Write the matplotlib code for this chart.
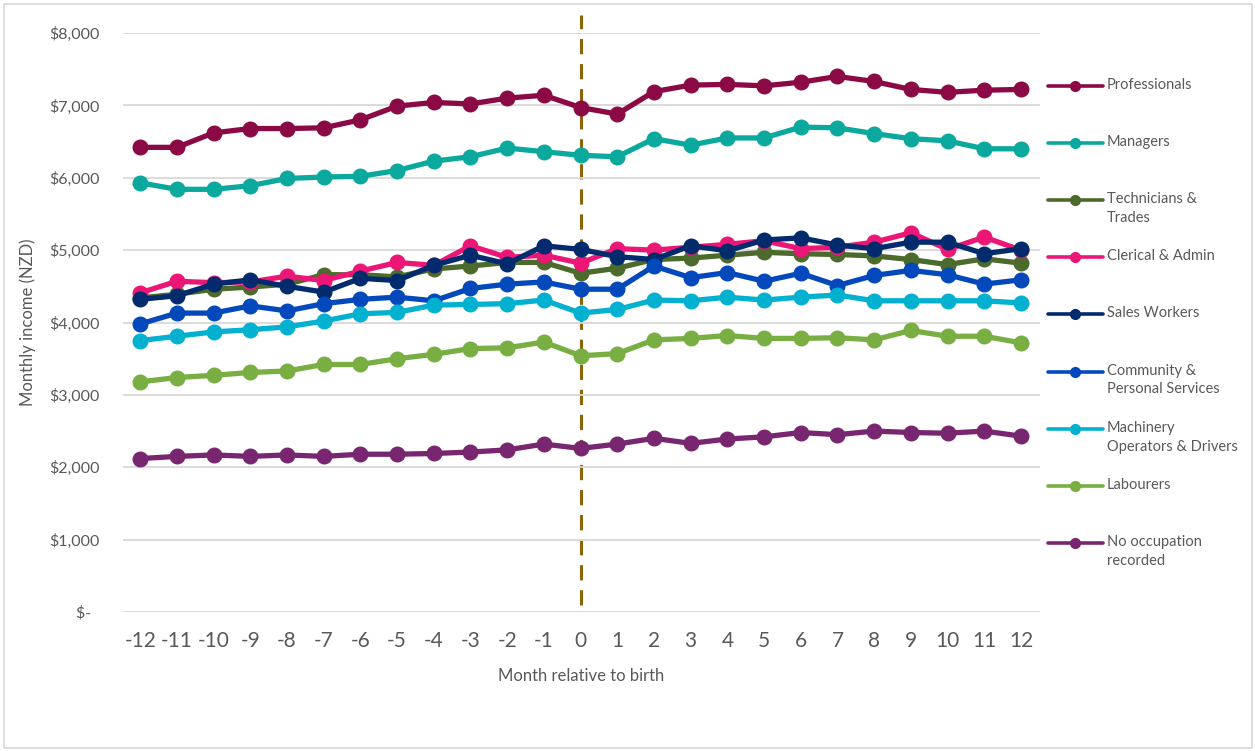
import matplotlib.pyplot as plt
from matplotlib.lines import Line2D
from matplotlib.patches import Rectangle
from matplotlib.ticker import FuncFormatter

plt.rcParams['font.family'] = ['Lato', 'DejaVu Sans']
plt.rcParams['axes.unicode_minus'] = False

months = list(range(-12, 13))

professionals = [6420, 6420, 6620, 6680, 6680, 6690, 6800, 6990, 7040, 7020, 7100, 7140, 6970,
                 6880, 7190, 7280, 7290, 7270, 7320, 7400, 7330, 7220, 7180, 7210, 7220]
managers = [5930, 5840, 5840, 5890, 5990, 6010, 6020, 6100, 6230, 6290, 6410, 6360, 6310,
            6290, 6540, 6450, 6550, 6550, 6700, 6690, 6610, 6540, 6510, 6400, 6400]
technicians = [4340, 4390, 4460, 4490, 4530, 4660, 4660, 4630, 4740, 4780, 4830, 4830, 4680,
               4750, 4870, 4890, 4930, 4970, 4950, 4940, 4920, 4870, 4800, 4880, 4820]
clerical = [4410, 4570, 4550, 4560, 4640, 4580, 4710, 4830, 4790, 5060, 4900, 4930, 4820,
            5020, 5000, 5040, 5080, 5130, 5020, 5040, 5110, 5240, 5010, 5180, 5000]
sales = [4320, 4370, 4530, 4590, 4500, 4420, 4610, 4580, 4790, 4930, 4810, 5060, 5010,
         4910, 4870, 5060, 4990, 5140, 5170, 5070, 5020, 5110, 5110, 4950, 5020]
community = [3980, 4130, 4130, 4230, 4160, 4260, 4320, 4350, 4300, 4470, 4530, 4560, 4460,
             4460, 4780, 4620, 4690, 4570, 4680, 4510, 4650, 4720, 4660, 4530, 4590]
machinery = [3750, 3810, 3870, 3900, 3940, 4020, 4120, 4140, 4240, 4250, 4260, 4310, 4130,
             4180, 4310, 4300, 4350, 4310, 4350, 4380, 4300, 4300, 4300, 4300, 4270]
labourers = [3180, 3240, 3270, 3310, 3330, 3420, 3420, 3500, 3560, 3640, 3650, 3730, 3540,
             3570, 3760, 3780, 3820, 3780, 3780, 3790, 3760, 3890, 3810, 3810, 3720]
no_occupation = [2120, 2150, 2170, 2150, 2170, 2150, 2180, 2180, 2190, 2210, 2240, 2320, 2260,
                 2320, 2400, 2330, 2390, 2420, 2480, 2450, 2500, 2480, 2470, 2500, 2430]

labels = ['Professionals', 'Managers', 'Technicians &\nTrades', 'Clerical & Admin',
          'Sales Workers', 'Community &\nPersonal Services', 'Machinery\nOperators & Drivers',
          'Labourers', 'No occupation\nrecorded']
series = [professionals, managers, technicians, clerical, sales, community,
          machinery, labourers, no_occupation]
colors = ['#8B0A46', '#0BA89E', '#4B6A2B', '#EC1677', '#022B6D',
          '#0349BC', '#02B0CF', '#79AE42', '#782670']

W, H = 1255, 751
fig = plt.figure(figsize=(W / 100, H / 100), dpi=100)
ax = fig.add_axes([123 / W, 1 - 612 / H, (1040 - 123) / W, (612 - 33) / H])

for vals, c, lab in zip(series, colors, labels):
    ax.plot(months, vals, color=c, lw=3.8, marker='o', ms=10.5, label=lab,
            solid_capstyle='round', clip_on=False)

# birth month marker
ax.plot([0, 0], [100, 8250], color='#8B6508', lw=2.2, ls=(0, (5, 3.2)),
        clip_on=False, zorder=0.5)

ax.set_xlim(-12.47, 12.52)
ax.set_ylim(0, 8000)
ax.set_xticks(months)
ax.set_yticks(range(0, 8001, 1000))
ax.yaxis.set_major_formatter(FuncFormatter(
    lambda v, p: '$-  ' if v == 0 else '${:,.0f}'.format(v)))
ax.grid(axis='y', color='#d9d9d9', lw=1.3)
ax.set_axisbelow(True)
for s in ax.spines.values():
    s.set_visible(False)
ax.tick_params(axis='y', length=0, pad=17, labelsize=11.5, labelcolor='#595959')
ax.tick_params(axis='x', length=0, pad=14, labelsize=15, labelcolor='#595959')
ax.set_xlabel('Month relative to birth', fontsize=12, color='#595959', labelpad=12)
ax.set_ylabel('Monthly income (NZD)', fontsize=12, color='#595959', labelpad=9)

# legend drawn by hand so every entry sits on an even pitch
for i, (c, lab) in enumerate(zip(colors, labels)):
    y = 1 - (86 + 57.1 * i) / H
    fig.add_artist(Line2D([1048 / W, 1103 / W], [y, y], color=c, lw=2.6,
                          solid_capstyle='round', transform=fig.transFigure))
    fig.add_artist(Line2D([1075 / W], [y], color=c, marker='o', ms=7,
                          transform=fig.transFigure))
    fig.text(1107 / W, y + 8 / H, lab, fontsize=10.5, color='#595959',
             va='top', ha='left', linespacing=1.45)

fig.add_artist(Rectangle((4 / W, 3 / H), 1248 / W, 744 / H, fill=False,
                         ec='#d9d9d9', lw=1.2, transform=fig.transFigure))

fig.savefig('out.png', dpi=100)
